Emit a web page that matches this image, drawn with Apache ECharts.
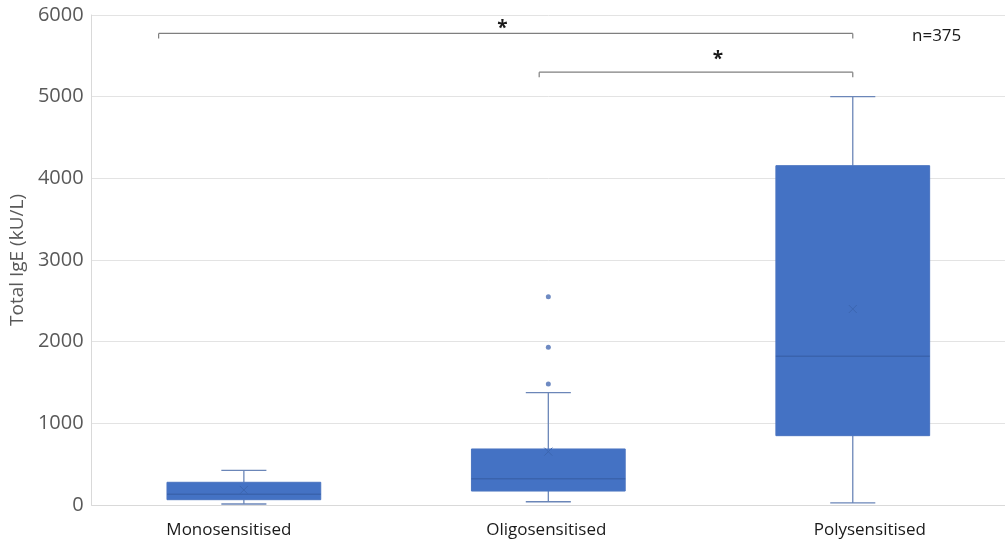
<!DOCTYPE html>
<html><head><meta charset="utf-8">
<script src="https://cdn.jsdelivr.net/npm/echarts@6/dist/echarts.min.js"></script>
<style>html,body{margin:0;padding:0;background:#fff}#c{width:1005px;height:544px}</style>
</head><body><div id="c"></div>
<script>
const categories = ['Monosensitised', 'Oligosensitised', 'Polysensitised'];
const whiskerLow = [12, 40, 25];
const q1 = [65, 171, 849];
const median = [131, 322, 1820];
const q3 = [278, 686, 4155];
const whiskerHigh = [425, 1375, 5000];
const means = [184, 653, 2400];
const outlierCat = [1, 1, 1];
const outlierVal = [1482, 1931, 2551];
const yTicks = [0, 1000, 2000, 3000, 4000, 5000, 6000];
const bracketStart = [-0.28, 0.97];
const bracketEnd = [2, 2];
const bracketY = [5775, 5300];
const starX = [0.849, 1.557];
const starY = [5870, 5495];
const starText = ['*', '*'];
const noteText = 'n=375';

const boxData = categories.map((c, i) => [i, whiskerLow[i], q1[i], median[i], q3[i], whiskerHigh[i], means[i]]);
const outData = outlierCat.map((c, i) => [categories[c], outlierVal[i]]);
const bracketData = bracketStart.map((s, i) => [s, bracketEnd[i], bracketY[i]]);
const starData = starX.map((x, i) => [x, starY[i], starText[i]]);

const chart = echarts.init(document.getElementById('c'));
const font = '"Open Sans", sans-serif';
const labelStyles = ['l0', 'l1', 'l2'];

chart.setOption({
  animation: false,
  grid: { left: 90.5, right: 0, top: 15, bottom: 39, containLabel: false },
  xAxis: [{
    type: 'category', data: categories,
    axisLine: { show: true, lineStyle: { color: '#d9d9d9' } },
    axisTick: { show: false },
    axisLabel: {
      color: '#1a1a1a', fontSize: 17, fontFamily: font, margin: 17,
      formatter: (v, idx) => '{' + labelStyles[idx] + '|' + v + '}',
      rich: {
        l0: { color: '#1a1a1a', fontSize: 17, fontFamily: font, padding: [0, 30, 0, 0] },
        l1: { color: '#1a1a1a', fontSize: 17, fontFamily: font, padding: [0, 4, 0, 0] },
        l2: { color: '#1a1a1a', fontSize: 17, fontFamily: font, padding: [0, 0, 0, 34] }
      }
    },
    splitLine: { show: false }
  }, {
    type: 'value', min: -0.5, max: 2.5, show: false
  }],
  yAxis: {
    type: 'value', min: 0, max: 6000, interval: 1000,
    name: 'Total IgE (kU/L)', nameLocation: 'middle', nameGap: 60,
    nameTextStyle: { color: '#595959', fontSize: 19, fontFamily: font },
    axisLine: { show: true, onZero: false, lineStyle: { color: '#d9d9d9' } },
    axisTick: { show: false },
    axisLabel: { color: '#595959', fontSize: 20, fontFamily: font, margin: 8,
      formatter: v => yTicks.includes(v) ? String(v) : '' },
    splitLine: { lineStyle: { color: '#e3e3e3' } }
  },
  series: [{
    type: 'custom',
    xAxisIndex: 0,
    data: boxData,
    encode: { x: 0, y: [1, 2, 3, 4, 5] },
    renderItem: function (params, api) {
      const i = api.value(0);
      const band = api.size([1, 0])[0];
      const bw = band * 0.505;
      const cw = band * 0.148;
      const pLow = api.coord([i, api.value(1)]);
      const pQ1 = api.coord([i, api.value(2)]);
      const pMed = api.coord([i, api.value(3)]);
      const pQ3 = api.coord([i, api.value(4)]);
      const pHigh = api.coord([i, api.value(5)]);
      const pMean = api.coord([i, api.value(6)]);
      const cx = pMed[0];
      const wl = { stroke: '#6b86b8', lineWidth: 1.3 };
      const m = 4;
      return {
        type: 'group',
        children: [
          { type: 'line', shape: { x1: cx, y1: pHigh[1], x2: cx, y2: pQ3[1] }, style: wl },
          { type: 'line', shape: { x1: cx, y1: pQ1[1], x2: cx, y2: pLow[1] }, style: wl },
          { type: 'line', shape: { x1: cx - cw / 2, y1: pHigh[1], x2: cx + cw / 2, y2: pHigh[1] }, style: wl },
          { type: 'line', shape: { x1: cx - cw / 2, y1: pLow[1], x2: cx + cw / 2, y2: pLow[1] }, style: wl },
          { type: 'rect', shape: { x: cx - bw / 2, y: pQ3[1], width: bw, height: pQ1[1] - pQ3[1] },
            style: { fill: '#4472c4', stroke: '#4a74c0', lineWidth: 1 } },
          { type: 'line', shape: { x1: cx - bw / 2, y1: pMed[1], x2: cx + bw / 2, y2: pMed[1] },
            style: { stroke: '#3a63ad', lineWidth: 1.5 } },
          { type: 'line', shape: { x1: cx - m, y1: pMean[1] - m, x2: cx + m, y2: pMean[1] + m },
            style: { stroke: '#3c66b0', lineWidth: 1 } },
          { type: 'line', shape: { x1: cx - m, y1: pMean[1] + m, x2: cx + m, y2: pMean[1] - m },
            style: { stroke: '#3c66b0', lineWidth: 1 } }
        ]
      };
    }
  }, {
    type: 'scatter',
    xAxisIndex: 0,
    data: outData,
    symbolSize: 5,
    itemStyle: { color: '#4a6db3' }
  }, {
    type: 'custom',
    xAxisIndex: 1,
    data: bracketData,
    renderItem: function (params, api) {
      const a = api.coord([api.value(0), api.value(2)]);
      const b = api.coord([api.value(1), api.value(2)]);
      const st = { stroke: '#7f7f7f', lineWidth: 1.2 };
      return {
        type: 'group',
        children: [
          { type: 'line', shape: { x1: a[0], y1: a[1], x2: b[0], y2: b[1] }, style: st },
          { type: 'line', shape: { x1: a[0], y1: a[1], x2: a[0], y2: a[1] + 5 }, style: st },
          { type: 'line', shape: { x1: b[0], y1: b[1], x2: b[0], y2: b[1] + 5 }, style: st }
        ]
      };
    }
  }, {
    type: 'custom',
    xAxisIndex: 1,
    data: starData,
    renderItem: function (params, api) {
      const p = api.coord([api.value(0), api.value(1)]);
      return {
        type: 'text',
        style: { x: p[0], y: p[1] + 3, text: starText[params.dataIndex], fill: '#1a1a1a',
          font: 'bold 19px ' + font, align: 'center', verticalAlign: 'middle' }
      };
    }
  }],
  graphic: [{
    type: 'text', left: 912, top: 28,
    style: { text: noteText, fill: '#1a1a1a', font: '17px ' + font }
  }]
});
</script></body></html>
